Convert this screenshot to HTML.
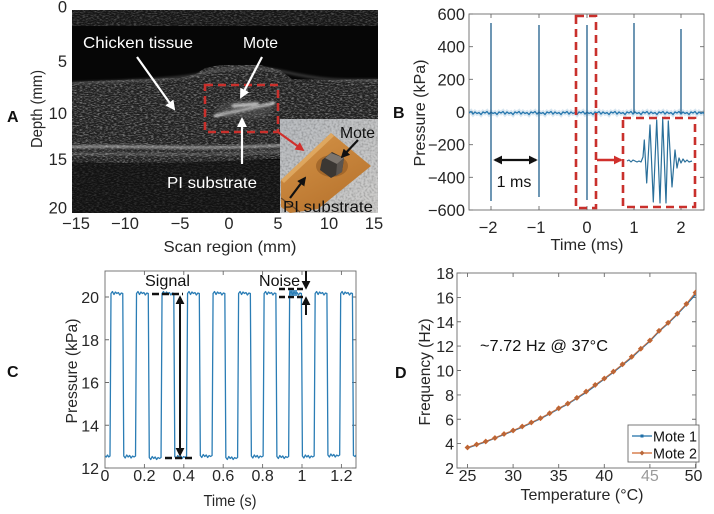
<!DOCTYPE html>
<html><head><meta charset="utf-8"><style>
html,body{margin:0;padding:0;background:#fff;}
svg{display:block;}
</style></head><body>
<svg xmlns="http://www.w3.org/2000/svg" width="714" height="514" viewBox="0 0 714 514" font-family="'Liberation Sans', Arial, sans-serif">
<defs>
  <marker id="aw" viewBox="0 0 10 10" refX="8" refY="5" markerWidth="10" markerHeight="10" orient="auto" markerUnits="userSpaceOnUse"><path d="M0,0 L10,5 L0,10 z" fill="#fff"/></marker>
  <marker id="ak" viewBox="0 0 10 10" refX="8" refY="5" markerWidth="9" markerHeight="9" orient="auto-start-reverse" markerUnits="userSpaceOnUse"><path d="M0,0 L10,5 L0,10 z" fill="#111"/></marker>
  <marker id="ar" viewBox="0 0 10 10" refX="8" refY="5" markerWidth="9" markerHeight="9" orient="auto" markerUnits="userSpaceOnUse"><path d="M0,0 L10,5 L0,10 z" fill="#d0302c"/></marker>
  <filter id="spk" filterUnits="userSpaceOnUse" x="72" y="10" width="306" height="203">
    <feTurbulence type="fractalNoise" baseFrequency="0.35 0.9" numOctaves="2" seed="7"/>
    <feColorMatrix type="matrix" values="0 0 0 0 1  0 0 0 0 1  0 0 0 0 1  3.4 0 0 0 -1.5"/>
  </filter>
  <filter id="pn" filterUnits="userSpaceOnUse" x="280" y="119" width="98" height="94">
    <feTurbulence type="fractalNoise" baseFrequency="0.5" numOctaves="2" seed="3"/>
    <feColorMatrix type="matrix" values="0 0 0 0 0  0 0 0 0 0  0 0 0 0 0  2 0 0 0 -0.8"/>
  </filter>
  <filter id="bl" x="-10%" y="-200%" width="120%" height="500%"><feGaussianBlur stdDeviation="1.2"/></filter>
  <filter id="bl2" x="-20%" y="-200%" width="140%" height="500%"><feGaussianBlur stdDeviation="2"/></filter>
  <clipPath id="cA"><rect x="72" y="10" width="306" height="203"/></clipPath>
  <clipPath id="tis"><path d="M72,82 L120,80 L180,78 L196,74 L205,68 L220,65 L260,65 L280,70 L292,79 L330,80 L378,79 L378,161 L300,158 L200,162 L120,163 L72,162 Z"/></clipPath>
  <clipPath id="bot"><rect x="72" y="160" width="306" height="53"/></clipPath>
  <clipPath id="topb"><rect x="72" y="10" width="306" height="16"/></clipPath>
  <clipPath id="ins"><rect x="280" y="119" width="98" height="94"/></clipPath>
  <clipPath id="cB"><rect x="469" y="14" width="235" height="196"/></clipPath>
  <clipPath id="cC"><rect x="105" y="271" width="251" height="197"/></clipPath>
  <clipPath id="cD"><rect x="457" y="273" width="239" height="195"/></clipPath>
  <linearGradient id="pg" x1="0" y1="0" x2="1" y2="1"><stop offset="0" stop-color="#b9bcc0"/><stop offset="1" stop-color="#cfcecc"/></linearGradient>
  <linearGradient id="og" x1="0" y1="0" x2="0.6" y2="1"><stop offset="0" stop-color="#d59448"/><stop offset="1" stop-color="#b8742e"/></linearGradient>
</defs>

<!-- ================= PANEL A ================= -->
<g clip-path="url(#cA)">
  <rect x="72" y="10" width="306" height="203" fill="#060606"/>
  <rect x="72" y="10" width="306" height="16" fill="#161616"/>
  <rect x="72" y="10" width="306" height="16" fill="#fff" filter="url(#spk)" opacity="0.22" clip-path="url(#topb)"/>
  <rect x="72" y="160" width="306" height="53" fill="#121212"/>
  <rect x="72" y="160" width="306" height="53" fill="#fff" filter="url(#spk)" opacity="0.12" clip-path="url(#bot)"/>
  <rect x="72" y="60" width="306" height="110" fill="#202020" clip-path="url(#tis)"/>
  <rect x="72" y="60" width="306" height="110" fill="#fff" filter="url(#spk)" opacity="0.36" clip-path="url(#tis)"/>
  <!-- bright bands -->
  <path d="M72,147 C120,145 180,149 240,147 S330,144 378,145" stroke="#d0d0d0" stroke-width="2.2" fill="none" filter="url(#bl)" opacity="0.8"/>
  <path d="M72,154 C130,153 190,156 250,153 S330,151 378,152" stroke="#aaaaaa" stroke-width="1.6" fill="none" filter="url(#bl)" opacity="0.6"/>
  <path d="M72,83 C130,81 180,79 200,74 S250,64 285,72 S340,81 378,80" stroke="#8a8a8a" stroke-width="2" fill="none" filter="url(#bl)" opacity="0.5"/>
  <!-- mote streaks -->
  <path d="M214,116 L275,103" stroke="#ffffff" stroke-width="2.5" fill="none" filter="url(#bl)" opacity="0.9"/>
  <path d="M232,106 L258,104" stroke="#ffffff" stroke-width="3" fill="none" filter="url(#bl)"/>
  <ellipse cx="245" cy="110" rx="28" ry="9" fill="#777" opacity="0.35" filter="url(#bl2)"/>
</g>
<!-- inset photo -->
<g clip-path="url(#ins)">
<rect x="280" y="119" width="98" height="94" fill="url(#pg)"/>
<rect x="280" y="119" width="98" height="94" filter="url(#pn)" opacity="0.25"/>
<polygon points="281,180 331,133 371,166 318,209 290,213 281,207" fill="url(#og)"/>
<polygon points="281,180 331,133 334,136 284,183" fill="#e6b46e" opacity="0.7"/>
<path d="M281,198 L300,212" stroke="#6a4a2a" stroke-width="1.2"/>
<ellipse cx="332" cy="166" rx="16" ry="11" fill="#8e5622" opacity="0.6"/>
<polygon points="322,160 332,152 344,158 342,172 331,178 320,170" fill="#3b3733"/>
<polygon points="331,153 344,158 337,164 325,158" fill="#7c756e"/>
<polygon points="337,164 344,158 342,172 336,176" fill="#5a544f"/>
</g>

<!-- A annotations -->
<rect x="205" y="85" width="73" height="47" fill="none" stroke="#c9302c" stroke-width="2.6" stroke-dasharray="8,5"/>
<line x1="137" y1="57" x2="174" y2="109" stroke="#fff" stroke-width="2.2" marker-end="url(#aw)"/>
<line x1="262" y1="57" x2="241" y2="97" stroke="#fff" stroke-width="2.2" marker-end="url(#aw)"/>
<line x1="242" y1="164" x2="242" y2="119" stroke="#fff" stroke-width="2.2" marker-end="url(#aw)"/>
<line x1="278" y1="132" x2="303" y2="150" stroke="#d0302c" stroke-width="2.2" marker-end="url(#ar)"/>
<line x1="358" y1="140" x2="342" y2="157" stroke="#111" stroke-width="2.2" marker-end="url(#ak)"/>
<line x1="290" y1="198" x2="305" y2="178" stroke="#111" stroke-width="2.2" marker-end="url(#ak)"/>
<g font-size="16" fill="#fff">
  <text x="83" y="48" textLength="110" lengthAdjust="spacingAndGlyphs">Chicken  tissue</text>
  <text x="243" y="48" textLength="35" lengthAdjust="spacingAndGlyphs">Mote</text>
  <text x="167" y="188" textLength="90" lengthAdjust="spacingAndGlyphs">PI  substrate</text>
</g>
<g font-size="16" fill="#111">
  <text x="340" y="138" textLength="35" lengthAdjust="spacingAndGlyphs">Mote</text>
  <text x="283" y="212" textLength="90" lengthAdjust="spacingAndGlyphs">PI  substrate</text>
</g>
<!-- A axes labels -->
<g font-size="16.5" fill="#262626" text-anchor="end">
  <text x="67" y="12.5">0</text>
  <text x="67" y="67">5</text>
  <text x="67" y="119">10</text>
  <text x="67" y="165">15</text>
  <text x="67" y="213.5">20</text>
</g>
<g font-size="16.5" fill="#262626" text-anchor="middle">
  <text x="76" y="229">−15</text>
  <text x="125" y="229">−10</text>
  <text x="180" y="229">−5</text>
  <text x="229" y="229">0</text>
  <text x="278" y="229">5</text>
  <text x="329" y="229">10</text>
  <text x="374" y="229">15</text>
</g>
<text x="230" y="252" font-size="16" fill="#262626" text-anchor="middle" textLength="133" lengthAdjust="spacingAndGlyphs">Scan  region (mm)</text>
<text transform="translate(42,109) rotate(-90)" font-size="16" fill="#262626" text-anchor="middle" textLength="78" lengthAdjust="spacingAndGlyphs">Depth (mm)</text>
<text x="7" y="122" font-size="16" font-weight="bold" fill="#111">A</text>

<!-- ================= PANEL B ================= -->
<rect x="469" y="14" width="235" height="196" fill="#fff" stroke="#6a6a6a" stroke-width="0.9"/>
<path d="M469,14h4M469,46.7h4M469,79.3h4M469,112h4M469,144.7h4M469,177.3h4M469,210h4 M704,14h-4M704,46.7h-4M704,79.3h-4M704,112h-4M704,144.7h-4M704,177.3h-4M704,210h-4 M491,210v-4M539,210v-4M587,210v-4M634,210v-4M681,210v-4 M491,14v4M539,14v4M587,14v4M634,14v4M681,14v4" stroke="#6a6a6a" stroke-width="0.9" fill="none"/>
<g clip-path="url(#cB)">
  <path d="M469,113 l2,-1.5 l2,2.5 l2,-2 l2,1.5 l2,-1 l2,2 l2,-2.5 l2,1 l2,-1.5 l2,2.5 l2,-2 l2,1.5 l2,-1 l2,2 l2,-2.5 l2,1 l2,-1.5 l2,2.5 l2,-2 l2,1.5 l2,-1 l2,2 l2,-2.5 l2,1 l2,-1.5 l2,2.5 l2,-2 l2,1.5 l2,-1 l2,2 l2,-2.5 l2,1 l2,-1.5 l2,2.5 l2,-2 l2,1.5 l2,-1 l2,2 l2,-2.5 l2,1 l2,-1.5 l2,2.5 l2,-2 l2,1.5 l2,-1 l2,2 l2,-2.5 l2,1 l2,-1.5 l2,2.5 l2,-2 l2,1.5 l2,-1 l2,2 l2,-2.5 l2,1 l2,-1.5 l2,2.5 l2,-2 l2,1.5 l2,-1 l2,2 l2,-2.5 l2,1 l2,-1.5 l2,2.5 l2,-2 l2,1.5 l2,-1 l2,2 l2,-2.5 l2,1 l2,-1.5 l2,2.5 l2,-2 l2,1.5 l2,-1 l2,2 l2,-2.5 l2,1 l2,-1.5 l2,2.5 l2,-2 l2,1.5 l2,-1 l2,2 l2,-2.5 l2,1 l2,-1.5 l2,2.5 l2,-2 l2,1.5 l2,-1 l2,2 l2,-2.5 l2,1 l2,-1.5 l2,2.5 l2,-2 l2,1.5 l2,-1 l2,2 l2,-2.5 l2,1 l2,-1.5 l2,2.5 l2,-2 l2,1.5 l2,-1 l2,2 l2,-2.5 l2,1 l2,-1.5 l2,2.5 l2,-2 l2,1.5 l2,-1 l2,2 l2,-2.5 l2,1 l2,-1.5 l2,2.5 l2,-2 l2,1.5 l2,-1 l2,2 l2,-2.5 l2,1 l2,-1.5 l2,2.5 l2,-2 l2,1.5 l2,-1 l2,2 l2,-2.5 l2,1" stroke="#2a7ab0" stroke-width="4.5" fill="none" opacity="0.18"/>
  <path d="M469,113 l2,-1.5 l2,2.5 l2,-2 l2,1.5 l2,-1 l2,2 l2,-2.5 l2,1 l2,-1.5 l2,2.5 l2,-2 l2,1.5 l2,-1 l2,2 l2,-2.5 l2,1 l2,-1.5 l2,2.5 l2,-2 l2,1.5 l2,-1 l2,2 l2,-2.5 l2,1 l2,-1.5 l2,2.5 l2,-2 l2,1.5 l2,-1 l2,2 l2,-2.5 l2,1 l2,-1.5 l2,2.5 l2,-2 l2,1.5 l2,-1 l2,2 l2,-2.5 l2,1 l2,-1.5 l2,2.5 l2,-2 l2,1.5 l2,-1 l2,2 l2,-2.5 l2,1 l2,-1.5 l2,2.5 l2,-2 l2,1.5 l2,-1 l2,2 l2,-2.5 l2,1 l2,-1.5 l2,2.5 l2,-2 l2,1.5 l2,-1 l2,2 l2,-2.5 l2,1 l2,-1.5 l2,2.5 l2,-2 l2,1.5 l2,-1 l2,2 l2,-2.5 l2,1 l2,-1.5 l2,2.5 l2,-2 l2,1.5 l2,-1 l2,2 l2,-2.5 l2,1 l2,-1.5 l2,2.5 l2,-2 l2,1.5 l2,-1 l2,2 l2,-2.5 l2,1 l2,-1.5 l2,2.5 l2,-2 l2,1.5 l2,-1 l2,2 l2,-2.5 l2,1 l2,-1.5 l2,2.5 l2,-2 l2,1.5 l2,-1 l2,2 l2,-2.5 l2,1 l2,-1.5 l2,2.5 l2,-2 l2,1.5 l2,-1 l2,2 l2,-2.5 l2,1 l2,-1.5 l2,2.5 l2,-2 l2,1.5 l2,-1 l2,2 l2,-2.5 l2,1 l2,-1.5 l2,2.5 l2,-2 l2,1.5 l2,-1 l2,2 l2,-2.5 l2,1 l2,-1.5 l2,2.5 l2,-2 l2,1.5 l2,-1 l2,2 l2,-2.5 l2,1 l2,-1.5 l2,2.5 l2,-2 l2,1.5 l2,-1 l2,2 l2,-2.5 l2,1" stroke="#2676ad" stroke-width="1.3" fill="none"/>
  <path d="M491,23V201 M539,25V197 M587,25V200 M634,23V113 M681,29V113" stroke="#1f5f8c" stroke-width="1.3" fill="none"/>
</g>
<rect x="576" y="16" width="20" height="192" fill="none" stroke="#c9302c" stroke-width="2.6" stroke-dasharray="8,5"/>
<rect x="623" y="118" width="72" height="89" fill="#fff" stroke="#c9302c" stroke-width="2.6" stroke-dasharray="8,5"/>
<path d="M627,161 l2,-1 l2,2 l2,-2 l2,1 l2,1 l2,-1 l2,1 L643,157 L644.3,140 L646.7,183 L650,125 L653.3,202 L656.7,120 L660,203 L662.7,119 L666,203 L668.3,121 L672,187 L675,150 L677,168 L679,158 L681,163 L683,159 L685,162 L687,160 L689,162 L692,161" stroke="#2a6f9a" stroke-width="1.2" fill="none" stroke-linejoin="round"/>
<line x1="597" y1="160" x2="621" y2="160" stroke="#d0302c" stroke-width="2.4" marker-end="url(#ar)"/>
<line x1="495" y1="160" x2="536" y2="160" stroke="#111" stroke-width="2.2" marker-start="url(#ak)" marker-end="url(#ak)"/>
<text x="514" y="187" font-size="16" fill="#111" text-anchor="middle">1 ms</text>
<g font-size="16.5" fill="#262626" text-anchor="end">
  <text x="465" y="20">600</text>
  <text x="465" y="52.7">400</text>
  <text x="465" y="85.3">200</text>
  <text x="465" y="118">0</text>
  <text x="465" y="150.7">−200</text>
  <text x="465" y="183.3">−400</text>
  <text x="465" y="216">−600</text>
</g>
<g font-size="16.5" fill="#262626" text-anchor="middle">
  <text x="488" y="233">−2</text>
  <text x="536" y="233">−1</text>
  <text x="587" y="233">0</text>
  <text x="634" y="233">1</text>
  <text x="681" y="233">2</text>
</g>
<text x="587" y="250" font-size="16" fill="#262626" text-anchor="middle" textLength="73" lengthAdjust="spacingAndGlyphs">Time (ms)</text>
<text transform="translate(425,113) rotate(-90)" font-size="16" fill="#262626" text-anchor="middle" textLength="107" lengthAdjust="spacingAndGlyphs">Pressure (kPa)</text>
<text x="393" y="118" font-size="16" font-weight="bold" fill="#111">B</text>

<!-- ================= PANEL C ================= -->
<rect x="105" y="271" width="251" height="197" fill="#fff" stroke="#6a6a6a" stroke-width="0.9"/>
<path d="M105,468h4M105,425.25h4M105,382.5h4M105,339.75h4M105,297h4 M356,468h-4M356,425.25h-4M356,382.5h-4M356,339.75h-4M356,297h-4 M144.4,468v-4M183.8,468v-4M223.2,468v-4M262.6,468v-4M302,468v-4M341.4,468v-4 M144.4,271v4M183.8,271v4M223.2,271v4M262.6,271v4M302,271v4M341.4,271v4" stroke="#6a6a6a" stroke-width="0.9" fill="none"/>
<g clip-path="url(#cC)">
<path d="M105,456 l1.25,1 l1.25,-2 l1.25,2 l1.25,-1
 l1,-162.5 l1.47,-2 l1.47,3 l1.47,-2.5 l1.47,1.5 l1.47,-1 l1.47,2.5 l1.47,-2 l1.47,0.5 l1,162.5 l1.47,2 l1.47,-3 l1.47,2 l1.47,-1.5 l1.47,2.5 l1.47,-2 l1.47,1 l1.47,-1
 l1,-162.5 l1.47,-2 l1.47,3 l1.47,-2.5 l1.47,1.5 l1.47,-1 l1.47,2.5 l1.47,-2 l1.47,0.5 l1,164 l1.47,2 l1.47,-3 l1.47,2 l1.47,-1.5 l1.47,2.5 l1.47,-2 l1.47,1 l1.47,-1
 l1,-164 l1.47,-2 l1.47,3 l1.47,-2.5 l1.47,1.5 l1.47,-1 l1.47,2.5 l1.47,-2 l1.47,0.5 l1,163 l1.47,2 l1.47,-3 l1.47,2 l1.47,-1.5 l1.47,2.5 l1.47,-2 l1.47,1 l1.47,-1
 l1,-163 l1.47,-2 l1.47,3 l1.47,-2.5 l1.47,1.5 l1.47,-1 l1.47,2.5 l1.47,-2 l1.47,0.5 l1,162 l1.47,2 l1.47,-3 l1.47,2 l1.47,-1.5 l1.47,2.5 l1.47,-2 l1.47,1 l1.47,-1
 l1,-162 l1.47,-2 l1.47,3 l1.47,-2.5 l1.47,1.5 l1.47,-1 l1.47,2.5 l1.47,-2 l1.47,0.5 l1,164 l1.47,2 l1.47,-3 l1.47,2 l1.47,-1.5 l1.47,2.5 l1.47,-2 l1.47,1 l1.47,-1
 l1,-164 l1.47,-2 l1.47,3 l1.47,-2.5 l1.47,1.5 l1.47,-1 l1.47,2.5 l1.47,-2 l1.47,0.5 l1,162.5 l1.47,2 l1.47,-3 l1.47,2 l1.47,-1.5 l1.47,2.5 l1.47,-2 l1.47,1 l1.47,-1
 l1,-162.5 l1.47,-2 l1.47,3 l1.47,-2.5 l1.47,1.5 l1.47,-1 l1.47,2.5 l1.47,-2 l1.47,0.5 l1,163 l1.47,2 l1.47,-3 l1.47,2 l1.47,-1.5 l1.47,2.5 l1.47,-2 l1.47,1 l1.47,-1
 l1,-163 l1.47,-2 l1.47,3 l1.47,-2.5 l1.47,1.5 l1.47,-1 l1.47,2.5 l1.47,-2 l1.47,0.5 l1,162.5 l1.47,2 l1.47,-3 l1.47,2 l1.47,-1.5 l1.47,2.5 l1.47,-2 l1.47,1 l1.47,-1
 l1,-162.5 l1.47,-2 l1.47,3 l1.47,-2.5 l1.47,1.5 l1.47,-1 l1.47,2.5 l1.47,-2 l1.47,0.5 l1,161.5 l1.47,2 l1.47,-3 l1.47,2 l1.47,-1.5 l1.47,2.5 l1.47,-2 l1.47,1 l1.47,-1
 l1,-161.5 l1.47,-2 l1.47,3 l1.47,-2.5 l1.47,1.5 l1.47,-1 l1.47,2.5 l1.47,-2 l1.47,0.5 l1,162 l1.5,1 l1.5,-2 l1.5,1.5" stroke="#2b7db5" stroke-width="1.3" fill="none" stroke-linejoin="round"/>
</g>
<!-- C annotations -->
<line x1="152" y1="294" x2="183" y2="294" stroke="#111" stroke-width="2.6" stroke-dasharray="7,3"/>
<line x1="165" y1="458" x2="195" y2="458" stroke="#111" stroke-width="2.6" stroke-dasharray="7,3"/>
<line x1="180" y1="297" x2="180" y2="455" stroke="#111" stroke-width="2" marker-start="url(#ak)" marker-end="url(#ak)"/>
<line x1="279" y1="289" x2="305" y2="289" stroke="#111" stroke-width="2.4" stroke-dasharray="6,3"/>
<line x1="279" y1="297" x2="305" y2="297" stroke="#111" stroke-width="2.4" stroke-dasharray="6,3"/>
<line x1="306" y1="271" x2="306" y2="288" stroke="#111" stroke-width="2" marker-end="url(#ak)"/>
<line x1="306" y1="315" x2="306" y2="298" stroke="#111" stroke-width="2" marker-end="url(#ak)"/>
<rect x="289" y="290" width="8" height="6" fill="#2b7db5" opacity="0.8"/>
<text x="145" y="286" font-size="16" fill="#111" textLength="45" lengthAdjust="spacingAndGlyphs">Signal</text>
<text x="259" y="286" font-size="16" fill="#111" textLength="41" lengthAdjust="spacingAndGlyphs">Noise</text>
<g font-size="16" fill="#262626" text-anchor="end">
  <text x="99" y="474">12</text>
  <text x="99" y="431.25">14</text>
  <text x="99" y="388.5">16</text>
  <text x="99" y="345.75">18</text>
  <text x="99" y="303">20</text>
</g>
<g font-size="16" fill="#262626" text-anchor="middle">
  <text x="105" y="481">0</text>
  <text x="144.4" y="481">0.2</text>
  <text x="183.8" y="481">0.4</text>
  <text x="223.2" y="481">0.6</text>
  <text x="262.6" y="481">0.8</text>
  <text x="302" y="481">1</text>
  <text x="341.4" y="481">1.2</text>
</g>
<text x="230" y="506" font-size="16" fill="#262626" text-anchor="middle" textLength="53" lengthAdjust="spacingAndGlyphs">Time (s)</text>
<text transform="translate(77,371) rotate(-90)" font-size="16" fill="#262626" text-anchor="middle" textLength="105" lengthAdjust="spacingAndGlyphs">Pressure (kPa)</text>
<text x="7" y="377" font-size="16" font-weight="bold" fill="#111">C</text>

<!-- ================= PANEL D ================= -->
<rect x="457" y="273" width="239" height="195" fill="#fff" stroke="#6a6a6a" stroke-width="0.9"/>
<path d="M457,468h4M457,443.6h4M457,419.25h4M457,394.9h4M457,370.5h4M457,346.1h4M457,321.75h4M457,297.4h4M457,273h4 M696,443.6h-4M696,419.25h-4M696,394.9h-4M696,370.5h-4M696,346.1h-4M696,321.75h-4M696,297.4h-4 M467.5,468v-4M513.1,468v-4M558.7,468v-4M604.3,468v-4M649.9,468v-4M695.5,468v-4 M467.5,273v4M513.1,273v4M558.7,273v4M604.3,273v4M649.9,273v4" stroke="#6a6a6a" stroke-width="0.9" fill="none"/>
<g clip-path="url(#cD)">
<polyline points="467.5,447.9 476.6,444.8 485.7,441.8 494.9,438.1 504,434.5 513.1,430.8 522.2,427.1 531.3,422.9 540.5,418.6 549.6,413.7 558.7,408.8 567.8,404 576.9,398.2 586.1,392.4 595.2,385.7 604.3,378.9 613.4,372.2 622.5,364.9 631.7,357.6 640.8,349.1 649.9,341.1 659,331.4 668.1,323.4 677.3,314.3 686.4,304.5 695.5,294.5" stroke="#1f6fa8" stroke-width="1.4" fill="none"/>
<polyline points="467.5,447.4 476.6,444.5 485.7,441.4 494.9,437.9 504,434 513.1,430.5 522.2,426.6 531.3,422.5 540.5,418.2 549.6,413.3 558.7,408.3 567.8,403.6 576.9,397.8 586.1,391.6 595.2,384.9 604.3,378.5 613.4,371.6 622.5,364.3 631.7,356.8 640.8,348.7 649.9,340.5 659,330.8 668.1,322.8 677.3,313.7 686.4,303.9 695.5,292.6" stroke="#d0672f" stroke-width="1.2" fill="none" opacity="0.85"/>
<g fill="#b8673a" stroke="#c9622a" stroke-width="0.6">
<path d="M467.5,445l2.5,2.5l-2.5,2.5l-2.5,-2.5z M476.6,442l2.5,2.5l-2.5,2.5l-2.5,-2.5z M485.7,439l2.5,2.5l-2.5,2.5l-2.5,-2.5z M494.9,435.5l2.5,2.5l-2.5,2.5l-2.5,-2.5z M504,431.5l2.5,2.5l-2.5,2.5l-2.5,-2.5z M513.1,428l2.5,2.5l-2.5,2.5l-2.5,-2.5z M522.2,424l2.5,2.5l-2.5,2.5l-2.5,-2.5z M531.3,420l2.5,2.5l-2.5,2.5l-2.5,-2.5z M540.5,415.7l2.5,2.5l-2.5,2.5l-2.5,-2.5z M549.6,410.8l2.5,2.5l-2.5,2.5l-2.5,-2.5z M558.7,405.8l2.5,2.5l-2.5,2.5l-2.5,-2.5z M567.8,401.1l2.5,2.5l-2.5,2.5l-2.5,-2.5z M576.9,395.3l2.5,2.5l-2.5,2.5l-2.5,-2.5z M586.1,389.1l2.5,2.5l-2.5,2.5l-2.5,-2.5z M595.2,382.4l2.5,2.5l-2.5,2.5l-2.5,-2.5z M604.3,376l2.5,2.5l-2.5,2.5l-2.5,-2.5z M613.4,369.1l2.5,2.5l-2.5,2.5l-2.5,-2.5z M622.5,361.8l2.5,2.5l-2.5,2.5l-2.5,-2.5z M631.7,354.3l2.5,2.5l-2.5,2.5l-2.5,-2.5z M640.8,346.2l2.5,2.5l-2.5,2.5l-2.5,-2.5z M649.9,338l2.5,2.5l-2.5,2.5l-2.5,-2.5z M659,328.3l2.5,2.5l-2.5,2.5l-2.5,-2.5z M668.1,320.3l2.5,2.5l-2.5,2.5l-2.5,-2.5z M677.3,311.2l2.5,2.5l-2.5,2.5l-2.5,-2.5z M686.4,301.4l2.5,2.5l-2.5,2.5l-2.5,-2.5z M695.5,290.1l2.5,2.5l-2.5,2.5l-2.5,-2.5z"/>
</g>
</g>
<!-- legend -->
<rect x="628" y="425" width="71" height="37" fill="#fff" stroke="#6a6a6a" stroke-width="0.9"/>
<line x1="632" y1="436" x2="652" y2="436" stroke="#1f6fa8" stroke-width="1.3"/>
<rect x="640.5" y="434.5" width="3" height="3" fill="#1f6fa8"/>
<line x1="632" y1="453" x2="652" y2="453" stroke="#d0672f" stroke-width="1.3"/>
<path d="M642,450.5l2.5,2.5l-2.5,2.5l-2.5,-2.5z" fill="#b8673a"/>
<text x="653" y="441.5" font-size="14.5" fill="#111" textLength="44" lengthAdjust="spacingAndGlyphs">Mote 1</text>
<text x="653" y="458.5" font-size="14.5" fill="#111" textLength="44" lengthAdjust="spacingAndGlyphs">Mote 2</text>
<text x="480" y="351" font-size="16" fill="#111" textLength="128" lengthAdjust="spacingAndGlyphs">~7.72 Hz @ 37°C</text>
<g font-size="16" fill="#262626" text-anchor="end">
  <text x="454" y="474">2</text>
  <text x="454" y="449.6">4</text>
  <text x="454" y="425.25">6</text>
  <text x="454" y="400.9">8</text>
  <text x="454" y="376.5">10</text>
  <text x="454" y="352.1">12</text>
  <text x="454" y="327.75">14</text>
  <text x="454" y="303.4">16</text>
  <text x="454" y="279">18</text>
</g>
<g font-size="16" fill="#262626" text-anchor="middle">
  <text x="467.5" y="481">25</text>
  <text x="513.1" y="481">30</text>
  <text x="558.7" y="481">35</text>
  <text x="604.3" y="481">40</text>
  <text x="649.9" y="481" fill="#9a9a9a">45</text>
  <text x="693.5" y="481">50</text>
</g>
<text x="582" y="500" font-size="16" fill="#262626" text-anchor="middle" textLength="123" lengthAdjust="spacingAndGlyphs">Temperature (°C)</text>
<text transform="translate(430,372) rotate(-90)" font-size="16" fill="#262626" text-anchor="middle" textLength="107" lengthAdjust="spacingAndGlyphs">Frequency (Hz)</text>
<text x="395" y="378" font-size="16" font-weight="bold" fill="#111">D</text>
</svg>
</body></html>
